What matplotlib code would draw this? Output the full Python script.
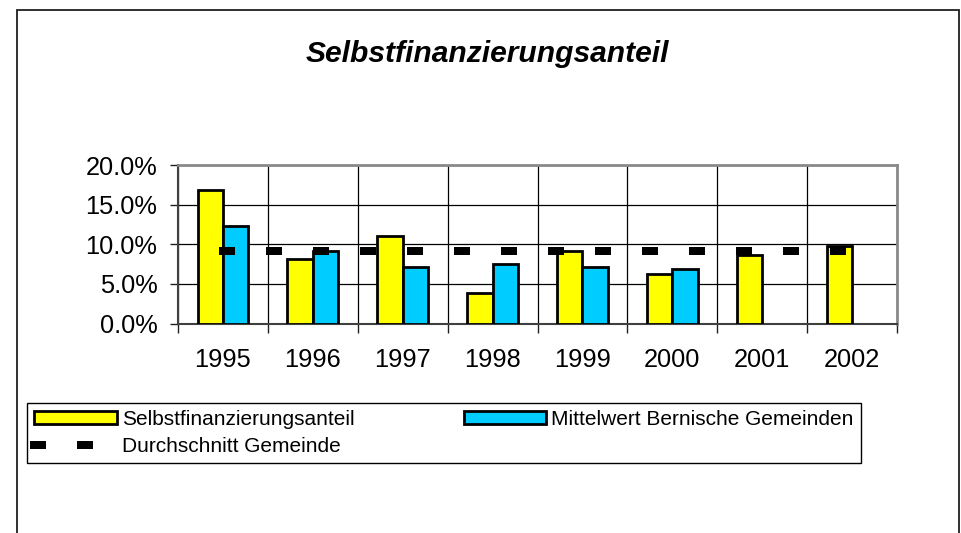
import numpy as np
import matplotlib
matplotlib.use("Agg")
import matplotlib.pyplot as plt
from matplotlib.patches import Rectangle
from matplotlib.ticker import FixedLocator, FuncFormatter

# ---- data ----
years = ["1995", "1996", "1997", "1998", "1999", "2000", "2001", "2002"]
selbst = [16.9, 8.2, 11.1, 3.8, 9.1, 6.2, 8.6, 9.8]
mittel = [12.3, 9.2, 7.1, 7.5, 7.1, 6.9, np.nan, np.nan]
durchschnitt = [9.2, 9.2, 9.2, 9.2, 9.2, 9.2, 9.2, 9.2]
yticks = [0, 5, 10, 15, 20]

title = "Selbstfinanzierungsanteil"
lab_selbst = "Selbstfinanzierungsanteil"
lab_mittel = "Mittelwert Bernische Gemeinden"
lab_durch = "Durchschnitt Gemeinde"

plt.rcParams['font.family'] = ['Liberation Sans', 'DejaVu Sans']

W, H = 962, 533
fig = plt.figure(figsize=(W / 100, H / 100), dpi=100)
fig.patch.set_facecolor("white")

def fx(px):
    return px / W

def fy(py):
    return 1 - py / H

# outer chart border
fig.add_artist(Rectangle((fx(17), fy(600)), fx(959) - fx(17), fy(10) - fy(600),
                         transform=fig.transFigure, fill=False,
                         edgecolor="#202020", linewidth=1.3))

ax = fig.add_axes([fx(178), fy(323.5), fx(897) - fx(178), fy(165) - fy(323.5)])

x = np.arange(len(years))
bw = 0.283
b1 = ax.bar(x - bw / 2, selbst, width=bw, color="#FFFF00", edgecolor="black",
            linewidth=2.0, zorder=3, label=lab_selbst)
b2 = ax.bar(x + bw / 2, mittel, width=bw, color="#00CCFF", edgecolor="black",
            linewidth=2.0, zorder=3, label=lab_mittel)
ln, = ax.plot(x, durchschnitt, color="black", linewidth=5.76,
              linestyle=(0, (1.0, 4.875)), dash_capstyle="projecting",
              zorder=4, label=lab_durch)

ax.set_xlim(-0.5, len(years) - 0.5)
ax.set_ylim(0, 20)

ax.yaxis.set_major_locator(FixedLocator(yticks))
ax.yaxis.set_major_formatter(FuncFormatter(lambda v, p: f"{v:.1f}%"))
ax.set_xticks(x)
ax.set_xticklabels(years)
ax.set_xticks(np.arange(-0.5, len(years), 1.0), minor=True)

ax.tick_params(axis="y", which="major", direction="out", length=5.8, width=1.0,
               color="#202020", labelsize=18.3, pad=9)
ax.tick_params(axis="x", which="major", length=0, labelsize=18.3, pad=17.5)
ax.tick_params(axis="x", which="minor", direction="out", length=6.5, width=1.0,
               color="#202020")

ax.grid(True, which="major", axis="y", color="black", linewidth=0.9, zorder=1)
ax.grid(True, which="minor", axis="x", color="black", linewidth=0.9, zorder=1)
ax.set_axisbelow(True)

for s in ["top", "right"]:
    ax.spines[s].set_color("#8a8a8a")
    ax.spines[s].set_linewidth(2.0)
for s in ["left", "bottom"]:
    ax.spines[s].set_color("#404040")
    ax.spines[s].set_linewidth(1.5)

fig.text(fx(487.5), fy(62), title, ha="center", va="baseline",
         fontsize=21.6, fontweight="bold", fontstyle="italic")

leg = fig.legend([b1, ln, b2], [lab_selbst, lab_durch, lab_mittel],
                 loc="lower left",
                 bbox_to_anchor=(fx(27), fy(463), fx(861) - fx(27), fy(405) - fy(463)),
                 bbox_transform=fig.transFigure,
                 mode="expand", ncol=2, fontsize=15, frameon=True,
                 fancybox=False, shadow=False, framealpha=1,
                 edgecolor="black", borderaxespad=0, borderpad=0.35,
                 handlelength=3.95, handleheight=0.6, handletextpad=0.25,
                 labelspacing=0.38)
leg.get_frame().set_linewidth(1.0)

fig.savefig("out.png", dpi=100, facecolor="white")
